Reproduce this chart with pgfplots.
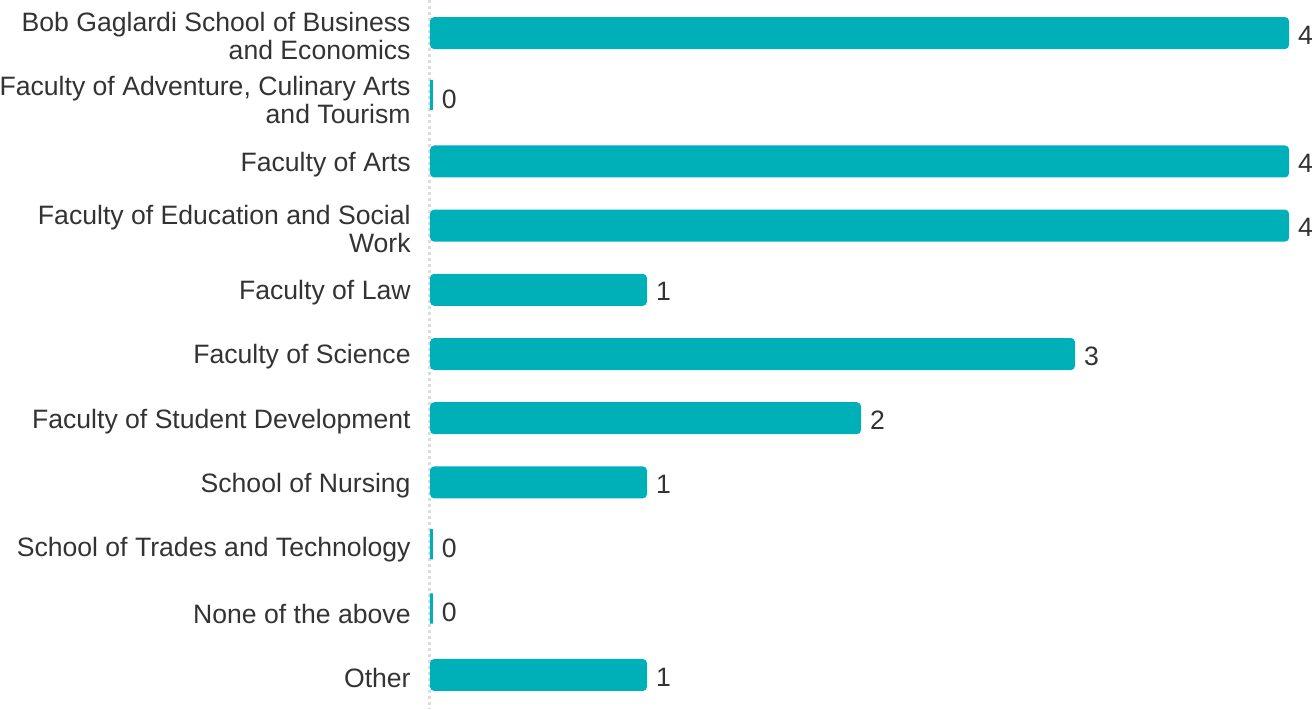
\documentclass[border=0pt]{standalone}
\usepackage{fontspec}
\setmainfont{Liberation Sans}
\usepackage{pgfplots}
\pgfplotsset{compat=1.18}
\definecolor{barc}{HTML}{00B0B9}
\definecolor{txt}{HTML}{333333}
\definecolor{gridc}{HTML}{DDDDDD}
\begin{document}
\fontsize{13.3}{14}\selectfont
\begin{tikzpicture}
\begin{axis}[
  at={(0,0)}, anchor=south west, scale only axis,
  width=441pt, height=354.5pt,
  xmin=0, xmax=4.121, ymin=-0.515, ymax=10.53, y dir=reverse,
  axis line style={draw=none}, tick style={draw=none}, xtick=\empty,
  ytick={0,1,2,3,4,5,6,7,8,9,10},
  yticklabels={{Bob Gaglardi School of Business\\and Economics},
    {Faculty of Adventure, Culinary Arts\\and Tourism},
    {Faculty of Arts},
    {Faculty of Education and Social\\Work},
    {Faculty of Law},
    {Faculty of Science},
    {Faculty of Student Development},
    {School of Nursing},
    {School of Trades and Technology},
    {None of the above},
    {Other}},
  yticklabel style={align=right, inner sep=0pt, anchor=east, xshift=-9.5pt,
    yshift=-1.5pt, font=\fontsize{13.3}{14}\selectfont, text=txt},
  /pgf/number format/assume math mode=true,
  clip=false,
]
\addplot[gridc, line width=1.5pt, dash pattern=on 1.5pt off 1.5pt]
  coordinates {(0,-0.515) (0,10.53)};
\addplot[xbar, bar width=14.5pt, fill=barc, draw=barc, line width=1.5pt,
  rounded corners=1.5pt, xshift=0.75pt,
  nodes near coords,
  every node near coord/.append style={anchor=west, inner sep=0pt, xshift=4.5pt,
    yshift=-1pt, text=txt, font=\fontsize{13.3}{14}\selectfont}]
  coordinates {(4,0) (0,1) (4,2) (4,3) (1,4) (3,5) (2,6) (1,7) (0,8) (0,9) (1,10)};
\end{axis}
\pgfresetboundingbox
\path (-215pt,0) rectangle (441pt,354.5pt);
\end{tikzpicture}
\end{document}
